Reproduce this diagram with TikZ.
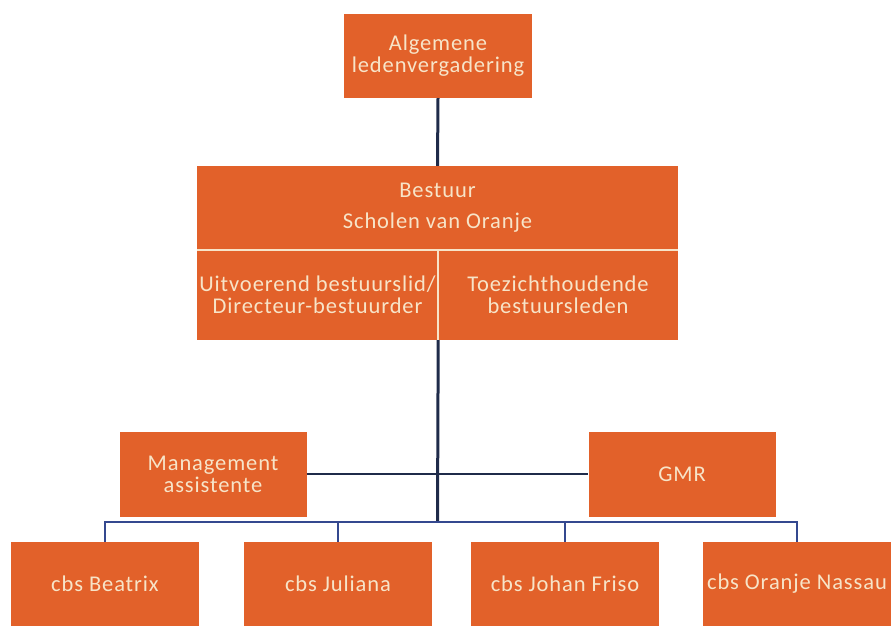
\documentclass[tikz,border=0pt]{standalone}
\usepackage{fontspec}
\setmainfont{Carlito}[LetterSpace=4]
\usepackage{tikz}

\definecolor{orgorange}{HTML}{E2612A}
\definecolor{orgtext}{HTML}{F7E4C8}
\definecolor{orgline}{HTML}{1F2B4A}
\definecolor{orgbus}{HTML}{34488F}
\tikzset{orgbox/.style={rectangle, fill=orgorange, text=orgtext, align=center, inner sep=0pt, font=\fontsize{22.5}{22}\selectfont}}
\tikzset{divline/.style={draw=orgtext, line width=1.5pt}}
\tikzset{link/.style={draw=orgline, line width=3pt}}
\tikzset{bus/.style={draw=orgbus, line width=2.4pt}}

\begin{document}
\begin{tikzpicture}[x=1pt,y=-1pt]
    \useasboundingbox (0,0) rectangle (892,639);
    \node[orgbox, minimum width=188pt, minimum height=84pt] (alv) at (438,56) {Algemene\\ledenvergadering};
    \node[orgbox, minimum width=481pt, minimum height=84pt] (bestuur) at (437.5,208) {Bestuur\\[9pt]Scholen van Oranje};
    \node[orgbox, minimum width=241pt, minimum height=90pt] (uitvoerend) at (317.5,295) {Uitvoerend bestuurslid/\\Directeur-bestuurder};
    \node[orgbox, minimum width=240pt, minimum height=90pt] (toezicht) at (558,295) {Toezichthoudende\\bestuursleden};
    \draw[divline] (bestuur.south west) -- (bestuur.south east);
    \draw[divline] (uitvoerend.north east) -- (uitvoerend.south east);
    \node[orgbox, minimum width=187pt, minimum height=85pt] (mgmt) at (213,474) {Management\\assistente};
    \node[orgbox, minimum width=187pt, minimum height=85pt] (gmr) at (682,474) {GMR};
    \foreach \x/\lab/\tx in {
      105/beatrix/cbs Beatrix,
      338/juliana/cbs Juliana,
      565/friso/cbs Johan Friso,
      797/nassau/cbs Oranje Nassau%
    } {
      \node[orgbox, minimum width=188pt, minimum height=84pt] (\lab) at (\x, 584) {\tx};
    }
    \coordinate (split) at (437.5,522);
    \draw[link] (alv.south) -- (bestuur.north);
    \draw[link] (uitvoerend.south east) -- (split);
    \draw[draw=orgline, line width=1.8pt] (mgmt.east) -- (gmr.west);
    \foreach \lab in {beatrix,juliana,friso,nassau}
      \draw[bus] (split) -| (\lab.north);
\end{tikzpicture}
\end{document}
